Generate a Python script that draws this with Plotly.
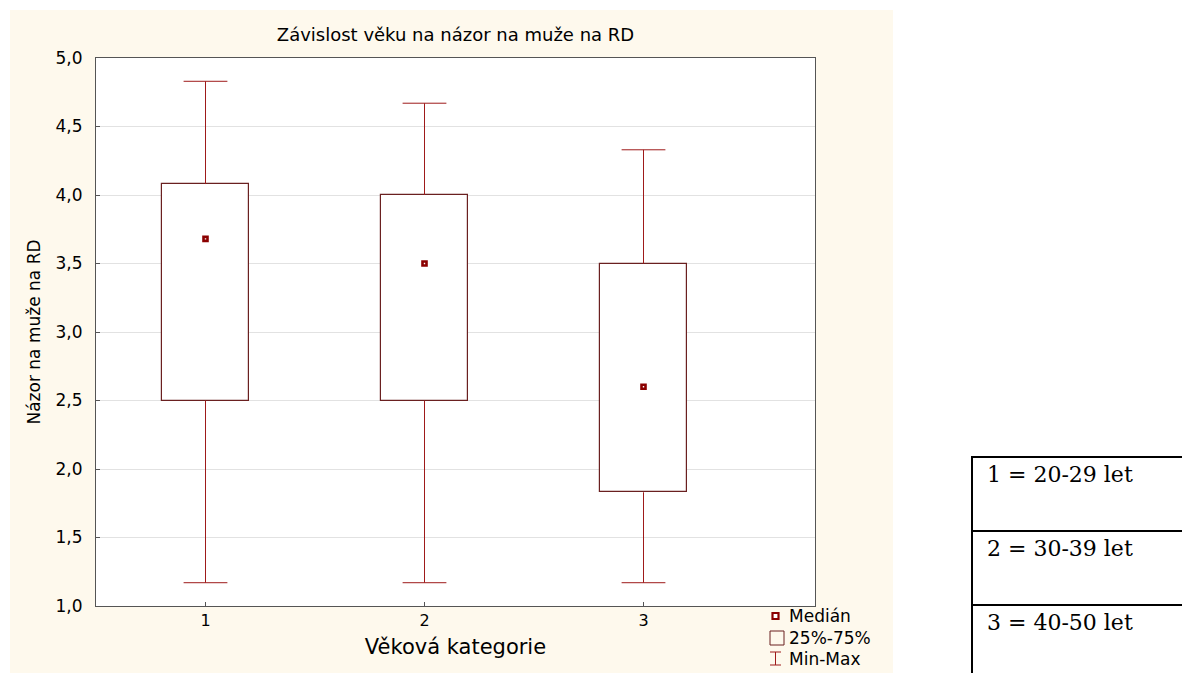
import plotly.graph_objects as go

# ---- data ----
categories = [1, 2, 3]
q1 = [2.5, 2.5, 1.83]
q3 = [4.08, 4.0, 3.5]
medians = [3.68, 3.5, 2.6]
mins = [1.17, 1.17, 1.17]
maxs = [4.83, 4.67, 4.33]
table_rows = ["1 = 20-29 let", "2 = 30-39 let", "3 = 40-50 let"]
legend_labels = ["Medián", "25%-75%", "Min-Max"]
yticks = [1.0, 1.5, 2.0, 2.5, 3.0, 3.5, 4.0, 4.5, 5.0]

W, H = 1182, 673
L, R, T, B = 96, 815, 58, 606
PW, PH = R - L, B - T


def px(x):
    return (x - L) / PW


def py(y):
    return (B - y) / PH


BOX_W = 0.4
CAP = 0.1
WHISK = "#9e1a1a"
EDGE = "#6a2020"
FONT = "DejaVu Sans, Verdana, sans-serif"
SERIF = "DejaVu Serif, Times New Roman, serif"

fig = go.Figure()

# whiskers
wx, wy = [], []
for c, lo, hi, a, b in zip(categories, mins, maxs, q1, q3):
    wx += [c, c, None, c, c, None, c - CAP, c + CAP, None, c - CAP, c + CAP, None]
    wy += [b, hi, None, a, lo, None, hi, hi, None, lo, lo, None]
fig.add_trace(go.Scatter(x=wx, y=wy, mode="lines", line=dict(color=WHISK, width=1),
                         hoverinfo="skip", showlegend=False))

# boxes
fig.add_trace(go.Bar(x=categories, y=[b - a for a, b in zip(q1, q3)], base=q1,
                     width=BOX_W, marker=dict(color="white", line=dict(color=EDGE, width=1.2)),
                     showlegend=False))

# medians
fig.add_trace(go.Scatter(x=categories, y=medians, mode="markers",
                         marker=dict(symbol="square", size=4, color="white",
                                     line=dict(color="#8b0000", width=2.6)),
                         showlegend=False))

shapes = []
# beige background panel and white plotting area
shapes.append(dict(type="rect", xref="paper", yref="paper", x0=px(10), x1=px(893),
                   y0=py(680), y1=py(10), fillcolor="#fef9ed", line=dict(width=0), layer="below"))
shapes.append(dict(type="rect", xref="paper", yref="paper", x0=0, x1=1, y0=0, y1=1,
                   fillcolor="white", line=dict(width=0), layer="below"))

# manual legend symbols
shapes.append(dict(type="rect", xref="paper", yref="paper", x0=px(770), x1=px(784),
                   y0=py(645), y1=py(631), line=dict(color="#6a2020", width=1), fillcolor="rgba(0,0,0,0)"))
for (x0, y0), (x1, y1) in [((770, 652), (781, 652)), ((775.5, 652), (775.5, 665)), ((770, 665), (781, 665))]:
    shapes.append(dict(type="line", xref="paper", yref="paper", x0=px(x0), y0=py(y0),
                       x1=px(x1), y1=py(y1), line=dict(color=WHISK, width=1)))
shapes.append(dict(type="rect", xref="paper", yref="paper", x0=px(772.5), x1=px(778.5),
                   y0=py(619), y1=py(613), line=dict(color="#8b0000", width=2.2), fillcolor="white"))

# table
TL = 972
for yy in [457, 531, 605]:
    shapes.append(dict(type="line", xref="paper", yref="paper", x0=px(TL - 1), x1=px(1190),
                       y0=py(yy), y1=py(yy), line=dict(color="black", width=2)))
shapes.append(dict(type="line", xref="paper", yref="paper", x0=px(TL), x1=px(TL),
                   y0=py(456), y1=py(690), line=dict(color="black", width=2)))

annotations = []
for txt, yy in zip(legend_labels, [616, 638, 659]):
    annotations.append(dict(text=txt, xref="paper", yref="paper", x=px(787), y=py(yy),
                            xanchor="left", yanchor="middle", showarrow=False,
                            font=dict(family=FONT, size=17, color="black")))
for txt, yy in zip(table_rows, [474, 548, 622]):
    annotations.append(dict(text=txt, xref="paper", yref="paper", x=px(985), y=py(yy),
                            xanchor="left", yanchor="middle", showarrow=False,
                            font=dict(family=SERIF, size=22, color="black")))

fig.update_layout(
    width=W, height=H,
    margin=dict(l=L, r=W - R, t=T, b=H - B, pad=0),
    paper_bgcolor="white", plot_bgcolor="white",
    separators=", ",
    title=dict(text="Závislost věku na názor na muže na RD", xref="paper", x=0.5, xanchor="center",
               yref="container", y=1 - 35 / H, yanchor="middle",
               font=dict(family=FONT, size=18, color="black")),
    font=dict(family=FONT, size=16, color="black"),
    shapes=shapes, annotations=annotations,
    showlegend=False, bargap=0,
)
fig.update_xaxes(range=[0.5, 0.5 + PW / 219], tickvals=categories, ticktext=[str(c) for c in categories],
                 ticks="inside", ticklen=4, tickcolor="#555", showgrid=False, zeroline=False,
                 showline=True, linecolor="#555", linewidth=1, mirror=True,
                 tickfont=dict(family=FONT, size=16),
                 title=dict(text="Věková kategorie", standoff=10, font=dict(family=FONT, size=21)))
fig.update_yaxes(range=[1.0, 5.0], tickvals=yticks, tickformat=".1f",
                 ticks="inside", ticklen=4, tickcolor="#555", showgrid=True, gridcolor="#e2e2e2",
                 zeroline=False, showline=True, linecolor="#555", linewidth=1, mirror=True,
                 tickfont=dict(family=FONT, size=17), ticklabelstandoff=9,
                 title=dict(text="Názor na muže na RD", standoff=10, font=dict(family=FONT, size=17)))

fig.write_html("out.html", config={"displayModeBar": False},
               post_script="document.body.style.margin='0';document.body.style.overflow='hidden';")
